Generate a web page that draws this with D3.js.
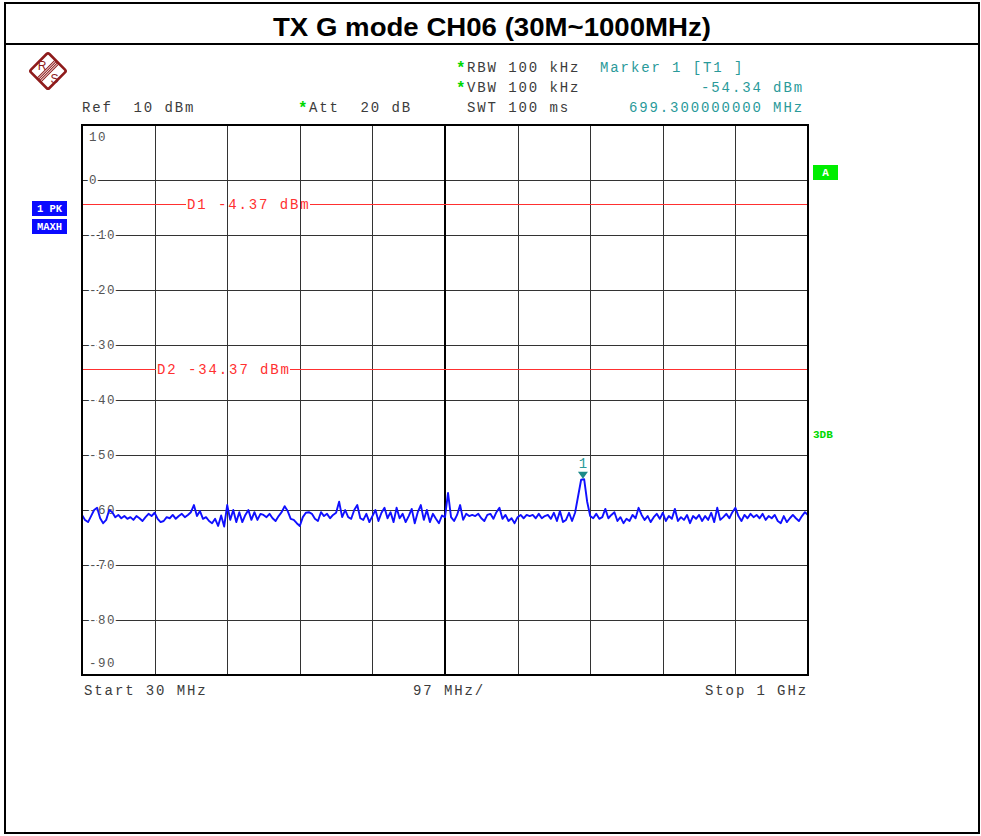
<!DOCTYPE html>
<html>
<head>
<meta charset="utf-8">
<script src="https://cdn.jsdelivr.net/npm/d3@7"></script>
<style>
body { margin: 0; background: #fff; }
svg text { white-space: pre; }
</style>
</head>
<body>
<div class="chartHolder"></div>
<script>
var title = "TX G mode CH06 (30M~1000MHz)";
var startMHz = 30, stopMHz = 1000;
var refLevel = 10, bottomLevel = -90;
var yTicks = [10, 0, -10, -20, -30, -40, -50, -60, -70, -80, -90];
var xDivisions = 10;
var settingNames = ["RBW 100 kHz", "VBW 100 kHz", "SWT 100 ms"];
var settingStars = [true, true, false];
var refText = "Ref  10 dBm", attText = "Att  20 dB";
var markerName = "Marker 1 [T1 ]";
var markerFreq = 699.3, markerLevel = -54.34;
var dLineNames = ["D1", "D2"];
var dLineLevels = [-4.37, -34.37];
var traceTags = ["1 PK", "MAXH"];

// max-hold trace, 241 points from start to stop
var levels = [
  -60.9, -61.8, -62.2, -61.1, -60.0, -59.6, -61.5, -62.4, -61.8, -60.0, -60.4, -61.3,
  -60.9, -61.5, -61.1, -61.6, -61.3, -61.8, -61.1, -61.5, -62.0, -61.3, -60.7, -61.1,
  -60.5, -61.6, -62.2, -62.0, -61.3, -61.5, -60.9, -61.6, -61.1, -60.7, -61.3, -60.9,
  -60.4, -59.1, -61.1, -60.2, -61.6, -61.3, -62.0, -62.4, -61.6, -62.9, -61.0, -63.0,
  -59.1, -61.8, -60.0, -62.2, -60.4, -62.2, -60.9, -60.0, -61.8, -60.4, -61.8, -60.7,
  -60.9, -61.3, -60.7, -61.5, -62.0, -61.1, -60.4, -59.3, -60.2, -61.6, -61.8, -62.4,
  -62.9, -61.3, -60.5, -60.4, -60.7, -61.6, -62.0, -60.4, -61.1, -60.7, -61.5, -60.9,
  -60.5, -58.5, -61.3, -60.0, -61.3, -61.6, -60.0, -59.1, -61.5, -61.8, -60.7, -62.2,
  -61.1, -60.0, -62.0, -60.5, -59.6, -61.5, -60.4, -62.2, -59.6, -61.5, -60.7, -62.2,
  -61.1, -59.8, -62.4, -60.4, -59.1, -61.8, -60.0, -62.2, -60.7, -61.6, -62.4, -61.0,
  -61.3, -56.9, -61.3, -62.0, -60.9, -59.1, -61.8, -60.7, -61.1, -60.9, -61.1, -60.7,
  -61.5, -62.0, -60.9, -60.7, -61.6, -60.4, -59.6, -61.6, -60.9, -62.0, -61.5, -62.4,
  -61.3, -60.9, -61.5, -60.9, -61.1, -60.9, -61.5, -60.7, -61.5, -61.1, -60.9, -61.6,
  -60.5, -62.0, -60.2, -62.2, -61.8, -60.5, -62.0, -60.5, -57.5, -54.5, -54.4, -58.5,
  -61.1, -61.5, -60.7, -61.6, -61.3, -59.8, -61.5, -60.9, -60.4, -62.0, -61.3, -62.4,
  -61.6, -62.0, -60.9, -61.5, -59.6, -60.9, -61.8, -61.1, -62.2, -61.3, -60.7, -61.6,
  -60.5, -62.0, -61.1, -61.6, -59.8, -62.0, -61.3, -61.8, -60.9, -62.4, -61.1, -61.6,
  -60.9, -62.0, -61.1, -61.8, -60.5, -62.2, -59.6, -61.8, -61.3, -60.7, -61.5, -60.4,
  -59.6, -61.1, -62.0, -60.9, -61.5, -60.7, -61.3, -60.9, -61.5, -60.7, -61.8, -61.1,
  -61.5, -60.9, -62.0, -62.4, -61.1, -62.2, -61.5, -60.9, -61.5, -62.0, -61.1, -60.4,
  -60.9
];

var svgW = 981, svgH = 836;
var plot = { left: 82, right: 808, top: 125, bottom: 675 };
var mono = "'Liberation Mono', 'DejaVu Sans Mono', monospace";
var grey = "#3c3c3c", teal = "#2a9a9a", red = "#ff3030", green = "#00d800";

var svg = d3.select(".chartHolder").append("svg").attr("width", svgW).attr("height", svgH);

// outer frame and title
svg.append("rect").attr("x", 5).attr("y", 3).attr("width", 974).attr("height", 830)
  .attr("fill", "none").attr("stroke", "#000").attr("stroke-width", 2);
svg.append("line").attr("x1", 5).attr("x2", 979).attr("y1", 44).attr("y2", 44)
  .attr("stroke", "#000").attr("stroke-width", 2);
svg.append("text").attr("x", 492).attr("y", 36).attr("text-anchor", "middle")
  .attr("font-family", "'Liberation Sans', Arial, sans-serif").attr("font-weight", "bold")
  .attr("font-size", 26).attr("textLength", 438).attr("lengthAdjust", "spacingAndGlyphs")
  .text(title);

// R&S logo
var logo = svg.append("g").attr("transform", "translate(48,71)");
var logoInner = logo.append("g").attr("transform", "rotate(45)");
logoInner.append("rect").attr("x", -13).attr("y", -13).attr("width", 26).attr("height", 26)
  .attr("rx", 2).attr("fill", "#fff").attr("stroke", "#8e1b1b").attr("stroke-width", 2.6);
logoInner.selectAll("line.stripe").data([-2.7, -0.9, 0.9, 2.7]).enter().append("line")
  .attr("class", "stripe").attr("x1", function (d) { return d; }).attr("x2", function (d) { return d; })
  .attr("y1", -13).attr("y2", 13).attr("stroke", "#8e1b1b").attr("stroke-width", 1);
logo.append("text").attr("x", -6).attr("y", -1).attr("text-anchor", "middle")
  .attr("font-family", "'Liberation Sans', sans-serif").attr("font-size", 12).attr("fill", "#8e1b1b").text("R");
logo.append("text").attr("x", 6.5).attr("y", 12).attr("text-anchor", "middle")
  .attr("font-family", "'Liberation Sans', sans-serif").attr("font-size", 12).attr("fill", "#8e1b1b").text("S");

function monoText(x, y, txt, color, anchor) {
  return svg.append("text").attr("x", x).attr("y", y).attr("text-anchor", anchor || "start")
    .attr("font-family", mono).attr("font-size", 14).attr("letter-spacing", 1.9)
    .attr("fill", color || grey).text(txt);
}
function star(x, y) {
  svg.append("text").attr("x", x).attr("y", y).attr("font-family", mono).attr("font-size", 16)
    .attr("font-weight", "bold").attr("fill", green).text("*");
}

// header settings
settingNames.forEach(function (s, i) {
  var yy = 72 + i * 20;
  if (settingStars[i]) star(456, yy + 1);
  monoText(467, yy, s);
});
monoText(82, 112, refText);
star(298, 113);
monoText(309, 112, attText);
monoText(600, 72, markerName, teal);
monoText(804, 92, markerLevel.toFixed(2) + " dBm", teal, "end");
monoText(804, 112, markerFreq.toFixed(9) + " MHz", teal, "end");

// scales
var xScale = d3.scaleLinear().domain([startMHz, stopMHz]).range([plot.left, plot.right]);
var yScale = d3.scaleLinear().domain([bottomLevel, refLevel]).range([plot.bottom, plot.top]);
var step = (stopMHz - startMHz) / xDivisions;
var xGrid = d3.range(xDivisions + 1).map(function (i) { return startMHz + i * step; });

var gx = svg.append("g").attr("transform", "translate(0," + plot.bottom + ")")
  .call(d3.axisBottom(xScale).tickValues(xGrid).tickSize(-(plot.bottom - plot.top)).tickFormat(""));
gx.select(".domain").remove();
gx.selectAll("line").attr("stroke", "#333").attr("shape-rendering", "crispEdges");

var gy = svg.append("g").attr("transform", "translate(" + plot.left + ",0)")
  .call(d3.axisLeft(yScale).tickValues(yTicks).tickSize(-(plot.right - plot.left)).tickFormat(""));
gy.select(".domain").remove();
gy.selectAll("line").attr("stroke", "#333").attr("shape-rendering", "crispEdges");

// center line
svg.append("line").attr("x1", xScale(startMHz + 5 * step)).attr("x2", xScale(startMHz + 5 * step))
  .attr("y1", plot.top).attr("y2", plot.bottom).attr("stroke", "#000").attr("stroke-width", 2);

// y labels
svg.selectAll("text.ytick").data(yTicks).enter().append("text").attr("class", "ytick")
  .attr("x", 89)
  .attr("y", function (d) {
    if (d === refLevel) return yScale(d) + 12;
    if (d === bottomLevel) return yScale(d) - 12;
    return yScale(d);
  })
  .attr("dy", "0.35em").attr("font-family", mono).attr("font-size", 12.5).attr("letter-spacing", 1.5)
  .attr("fill", "#555").attr("stroke", "#fff").attr("stroke-width", 4).attr("paint-order", "stroke")
  .text(function (d) { return String(d); });

// display lines
var dLabelX = [187, 157];
dLineNames.forEach(function (n, i) {
  var yy = yScale(dLineLevels[i]);
  var t = svg.append("text").attr("x", dLabelX[i]).attr("y", yy).attr("dy", "0.35em")
    .attr("font-family", mono).attr("font-size", 14).attr("letter-spacing", 1.9).attr("fill", red)
    .text(n + " " + dLineLevels[i].toFixed(2) + " dBm");
  var tw = t.node().getComputedTextLength();
  svg.append("line").attr("x1", plot.left).attr("x2", dLabelX[i] - 1).attr("y1", yy).attr("y2", yy)
    .attr("stroke", red).attr("stroke-width", 1).attr("shape-rendering", "crispEdges");
  svg.append("line").attr("x1", dLabelX[i] + tw - 1).attr("x2", plot.right).attr("y1", yy).attr("y2", yy)
    .attr("stroke", red).attr("stroke-width", 1).attr("shape-rendering", "crispEdges");
});

// trace
svg.append("clipPath").attr("id", "plotClip").append("rect")
  .attr("x", plot.left).attr("y", plot.top).attr("width", plot.right - plot.left).attr("height", plot.bottom - plot.top);
var nPts = levels.length;
var line = d3.line()
  .x(function (d, i) { return xScale(startMHz + i * (stopMHz - startMHz) / (nPts - 1)); })
  .y(function (d) { return yScale(d); });
svg.append("path").datum(levels).attr("d", line).attr("fill", "none")
  .attr("stroke", "#1010ff").attr("stroke-width", 1.9).attr("stroke-linejoin", "round")
  .attr("clip-path", "url(#plotClip)");

// marker
var mx = xScale(markerFreq), my = yScale(markerLevel);
svg.append("path").attr("d", "M" + (mx - 5) + "," + (my - 7) + "L" + (mx + 5) + "," + (my - 7) + "L" + mx + "," + my + "Z")
  .attr("fill", "#1d8a8a");
svg.append("text").attr("x", mx).attr("y", my - 11).attr("text-anchor", "middle")
  .attr("font-family", mono).attr("font-size", 14).attr("fill", teal).text("1");

// frame
svg.append("rect").attr("x", plot.left).attr("y", plot.top).attr("width", plot.right - plot.left)
  .attr("height", plot.bottom - plot.top).attr("fill", "none").attr("stroke", "#000").attr("stroke-width", 2);

// trace tags
traceTags.forEach(function (t, i) {
  svg.append("rect").attr("x", 32).attr("y", 201 + i * 18).attr("width", 35).attr("height", 15).attr("fill", "#0a0aff");
  svg.append("text").attr("x", 49.5).attr("y", 212 + i * 18).attr("text-anchor", "middle")
    .attr("font-family", mono).attr("font-weight", "bold").attr("font-size", 10.5).attr("fill", "#fff").text(t);
});
svg.append("rect").attr("x", 813).attr("y", 165).attr("width", 25).attr("height", 15).attr("fill", "#00ee00");
svg.append("text").attr("x", 825.5).attr("y", 176).attr("text-anchor", "middle")
  .attr("font-family", mono).attr("font-weight", "bold").attr("font-size", 11).attr("fill", "#fff").text("A");
svg.append("text").attr("x", 813).attr("y", 438)
  .attr("font-family", mono).attr("font-weight", "bold").attr("font-size", 11).attr("fill", green).text("3DB");

// bottom labels
monoText(84, 695, "Start " + startMHz + " MHz");
monoText(413, 695, step + " MHz/");
monoText(808, 695, "Stop " + (stopMHz / 1000) + " GHz", grey, "end");
</script>
</body>
</html>
